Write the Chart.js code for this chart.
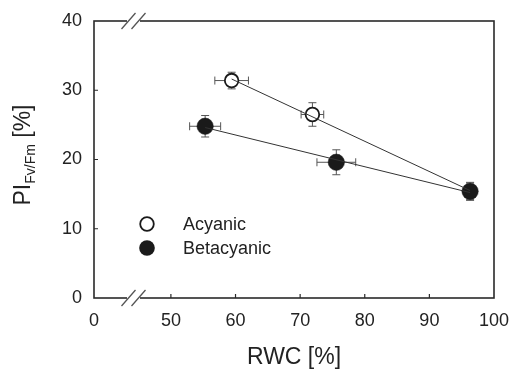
<!DOCTYPE html>
<html>
<head>
<meta charset="utf-8">
<script src="https://cdn.jsdelivr.net/npm/chart.js@4/dist/chart.umd.min.js"></script>
<style>
html,body{margin:0;padding:0;background:#fff;}
#wrap{width:515px;height:369px;position:relative;}
</style>
</head>
<body>
<div id="wrap"><canvas id="c" width="515" height="369"></canvas></div>
<script>
// ---- data ----
const seriesLabels = ['Acyanic', 'Betacyanic'];
const acyanicRWC    = [59.4, 71.9, 96.3];
const acyanicPI     = [31.4, 26.5, 15.4];
const acyanicRWCerr = [2.6, 1.75, 0.8];
const acyanicPIerr  = [1.2, 1.7, 1.2];
const betaRWC       = [55.3, 75.6, 96.3];
const betaPI        = [24.8, 19.6, 15.4];
const betaRWCerr    = [2.4, 3.0, 0.8];
const betaPIerr     = [1.55, 1.8, 1.3];
const xBreakStart = 38.1;            // axis value shown as "0" (broken axis)
const xTickValues = [38.1, 50, 60, 70, 80, 90, 100];
const xTickLabels = ['0', '50', '60', '70', '80', '90', '100'];
const yTickValues = [0, 10, 20, 30, 40];
const xTitle = 'RWC [%]';
const yTitleMain = 'PI';
const yTitleSub = 'Fv/Fm';
const yTitleEnd = ' [%]';

function fit(xs, ys){
  const n = xs.length;
  const mx = xs.reduce((a,b)=>a+b,0)/n, my = ys.reduce((a,b)=>a+b,0)/n;
  let sxy=0, sxx=0;
  for(let i=0;i<n;i++){sxy+=(xs[i]-mx)*(ys[i]-my);sxx+=(xs[i]-mx)**2;}
  const b = sxy/sxx, a = my - b*mx;
  const x0 = Math.min(...xs), x1 = Math.max(...xs);
  return [{x:x0,y:a+b*x0},{x:x1,y:a+b*x1}];
}
const pts = (xs, ys) => xs.map((x,i)=>({x, y: ys[i]}));

const FONT = '"Liberation Sans", Arial, sans-serif';
const AXIS = '#2a2a2a';
const ERR = '#555';

const errSeries = [
  {xs: acyanicRWC, ys: acyanicPI, ex: acyanicRWCerr, ey: acyanicPIerr},
  {xs: betaRWC, ys: betaPI, ex: betaRWCerr, ey: betaPIerr}
];

const custom = {
  id: 'custom',
  beforeDatasetsDraw(chart){
    const ctx = chart.ctx, xs = chart.scales.x, ys = chart.scales.y;
    ctx.save();
    ctx.strokeStyle = ERR; ctx.lineWidth = 1;
    const cap = 4;
    errSeries.forEach(s=>{
      s.xs.forEach((xv,i)=>{
        const yv = s.ys[i];
        const px = xs.getPixelForValue(xv), py = ys.getPixelForValue(yv);
        const xl = xs.getPixelForValue(xv - s.ex[i]), xr = xs.getPixelForValue(xv + s.ex[i]);
        const yt = ys.getPixelForValue(yv + s.ey[i]), yb = ys.getPixelForValue(yv - s.ey[i]);
        ctx.beginPath();
        ctx.moveTo(xl, py); ctx.lineTo(xr, py);
        ctx.moveTo(xl, py-cap); ctx.lineTo(xl, py+cap);
        ctx.moveTo(xr, py-cap); ctx.lineTo(xr, py+cap);
        ctx.moveTo(px, yt); ctx.lineTo(px, yb);
        ctx.moveTo(px-cap, yt); ctx.lineTo(px+cap, yt);
        ctx.moveTo(px-cap, yb); ctx.lineTo(px+cap, yb);
        ctx.stroke();
      });
    });
    ctx.restore();
  },
  afterDraw(chart){
    const ctx = chart.ctx, a = chart.chartArea, xs = chart.scales.x, ys = chart.scales.y;
    ctx.save();
    // box
    ctx.strokeStyle = AXIS; ctx.lineWidth = 1.6;
    ctx.strokeRect(a.left, a.top, a.right - a.left, a.bottom - a.top);
    // inward ticks
    ctx.lineWidth = 1.2;
    ctx.beginPath();
    xTickValues.forEach(v=>{
      if (v === xBreakStart || v === 100) return;
      const p = xs.getPixelForValue(v);
      ctx.moveTo(p, a.bottom); ctx.lineTo(p, a.bottom - 4);
    });
    yTickValues.forEach(v=>{
      if (v === 0 || v === 40) return;
      const p = ys.getPixelForValue(v);
      ctx.moveTo(a.left, p); ctx.lineTo(a.left + 4, p);
    });
    ctx.stroke();
    // axis breaks
    [a.top, a.bottom].forEach(yy=>{
      ctx.fillStyle = '#fff';
      ctx.fillRect(127, yy-2, 13, 4);
      ctx.strokeStyle = '#555'; ctx.lineWidth = 1.3;
      ctx.beginPath();
      [128.5, 138.5].forEach(cx=>{
        ctx.moveTo(cx-7, yy+8); ctx.lineTo(cx+7, yy-8);
      });
      ctx.stroke();
    });
    // x title
    ctx.fillStyle = '#222';
    ctx.font = '23px ' + FONT;
    ctx.textAlign = 'center'; ctx.textBaseline = 'alphabetic';
    ctx.fillText(xTitle, (a.left + a.right)/2, 364);
    // y title (rotated, with subscript)
    ctx.save();
    ctx.translate(30, 155);
    ctx.rotate(-Math.PI/2);
    const fMain = '23px ' + FONT, fSub = '14px ' + FONT;
    ctx.font = fMain; const w1 = ctx.measureText(yTitleMain).width;
    ctx.font = fSub; const w2 = ctx.measureText(yTitleSub).width;
    ctx.font = fMain; const w3 = ctx.measureText(yTitleEnd).width;
    let x = -(w1 + w2 + w3)/2;
    ctx.textAlign = 'left';
    ctx.font = fMain; ctx.fillText(yTitleMain, x, 0); x += w1;
    ctx.font = fSub; ctx.fillText(yTitleSub, x, 5); x += w2;
    ctx.font = fMain; ctx.fillText(yTitleEnd, x, 0);
    ctx.restore();
    // legend
    const legY = [224, 248];
    ctx.font = '18px ' + FONT; ctx.textAlign = 'left'; ctx.textBaseline = 'middle';
    seriesLabels.forEach((lab,i)=>{
      ctx.beginPath();
      ctx.arc(147, legY[i], i === 0 ? 6.8 : 7.8, 0, Math.PI*2);
      if (i === 0){ ctx.fillStyle = '#fff'; ctx.fill(); ctx.strokeStyle = '#1a1a1a'; ctx.lineWidth = 1.8; ctx.stroke(); }
      else { ctx.fillStyle = '#1a1a1a'; ctx.fill(); }
      ctx.fillStyle = '#222';
      ctx.fillText(lab, 183, legY[i] + 1);
    });
    ctx.restore();
  }
};

new Chart(document.getElementById('c'), {
  type: 'scatter',
  data: {
    datasets: [
      { label: seriesLabels[0] + ' fit', type: 'line', data: fit(acyanicRWC, acyanicPI), borderColor: '#333', borderWidth: 1, pointRadius: 0, fill: false, order: 0 },
      { label: seriesLabels[1] + ' fit', type: 'line', data: fit(betaRWC, betaPI), borderColor: '#333', borderWidth: 1, pointRadius: 0, fill: false, order: 0 },
      { label: seriesLabels[0], data: pts(acyanicRWC, acyanicPI), pointRadius: 6.8, pointBackgroundColor: '#fff', pointBorderColor: '#1a1a1a', pointBorderWidth: 1.8, order: 2 },
      { label: seriesLabels[1], data: pts(betaRWC, betaPI), pointRadius: 8.2, pointBackgroundColor: '#1a1a1a', pointBorderColor: '#1a1a1a', pointBorderWidth: 0.5, order: 1 }
    ]
  },
  options: {
    responsive: false,
    animation: false,
    events: [],
    layout: { padding: { top: 21, right: 21, left: 0, bottom: 0 } },
    plugins: { legend: { display: false }, tooltip: { enabled: false } },
    scales: {
      x: {
        type: 'linear', min: xBreakStart, max: 100,
        afterBuildTicks: s => { s.ticks = xTickValues.map(v => ({ value: v })); },
        afterFit: s => { s.height = 71; s.paddingRight = 0; s.paddingLeft = 0; },
        grid: { display: false, drawTicks: false },
        border: { display: false },
        ticks: {
          padding: 12, color: '#222', font: { family: FONT, size: 18 },
          maxRotation: 0, autoSkip: false,
          callback: (v) => xTickLabels[xTickValues.indexOf(v)]
        }
      },
      y: {
        type: 'linear', min: 0, max: 40,
        afterBuildTicks: s => { s.ticks = yTickValues.map(v => ({ value: v })); },
        afterFit: s => { s.width = 94; s.paddingTop = 0; s.paddingBottom = 0; },
        grid: { display: false, drawTicks: false },
        border: { display: false },
        ticks: { padding: 12, color: '#222', font: { family: FONT, size: 18 } }
      }
    }
  },
  plugins: [custom]
});
</script>
</body>
</html>
